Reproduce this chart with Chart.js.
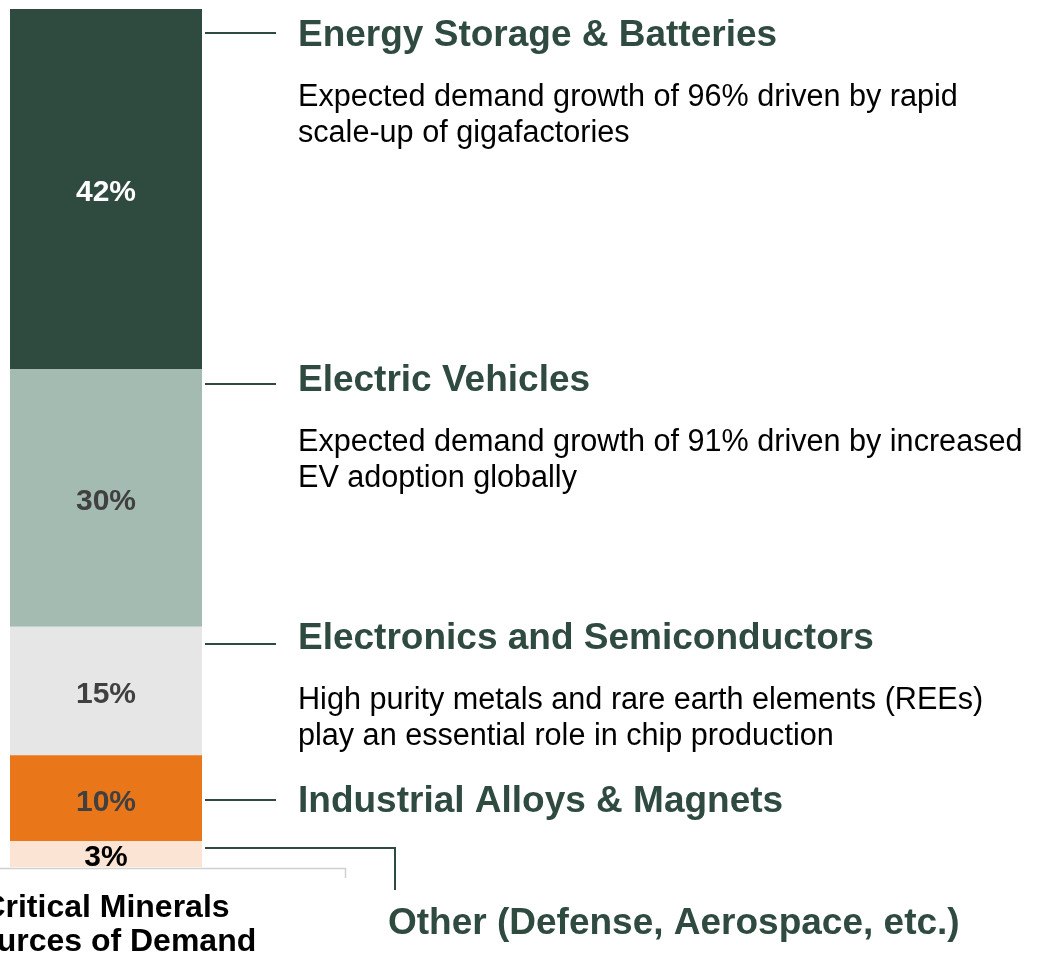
<!DOCTYPE html>
<html>
<head>
<meta charset="utf-8">
<script src="https://cdn.jsdelivr.net/npm/chart.js@4/dist/chart.umd.min.js"></script>
<style>
  html, body { margin: 0; padding: 0; background: #fff; }
  #wrap { position: relative; width: 1056px; height: 955px; }
</style>
</head>
<body>
<div id="wrap"><canvas id="chart"></canvas></div>
<script>
// data, listed top of the bar to bottom
const categories = [
    'Energy Storage & Batteries',
    'Electric Vehicles',
    'Electronics and Semiconductors',
    'Industrial Alloys & Magnets',
    'Other (Defense, Aerospace, etc.)'
];
const shares = [42, 30, 15, 10, 3];
const descriptions = [
    ['Expected demand growth of 96% driven by rapid', 'scale-up of gigafactories'],
    ['Expected demand growth of 91% driven by increased', 'EV adoption globally'],
    ['High purity metals and rare earth elements (REEs)', 'play an essential role in chip production'],
    [],
    []
];
const titleLines = ['Critical Minerals', 'Sources of Demand'];

// styles
const fills = ['#2F4A3E', '#A3BBB0', '#E6E6E6', '#E9771A', '#FCE4D5'];
const labelColors = ['#FFFFFF', '#404040', '#404040', '#404040', '#000000'];
const green = '#2F4A3E';
const FONT = '"Liberation Sans", Arial, sans-serif';

// where the leader line sits inside each segment (px from segment top, or 'mid')
const leaderOffset = [24, 15, 17, 'mid', 7];
// heading baseline below leader line
const headingDrop = [13, 7, 5, 12, null];

const n = categories.length;
const datasets = categories.map((c, i) => ({
    label: c,
    data: [shares[i]],
    backgroundColor: fills[i],
    borderWidth: 0
})).reverse();

const calloutPlugin = {
    id: 'callouts',
    afterDatasetsDraw(chart) {
        const ctx = chart.ctx;
        ctx.save();
        for (let i = 0; i < n; i++) {
            const el = chart.getDatasetMeta(n - 1 - i).data[0];
            const top = Math.min(el.y, el.base);
            const bottom = Math.max(el.y, el.base);
            const right = el.x + el.width / 2;

            // value label
            ctx.font = 'bold 30px ' + FONT;
            ctx.fillStyle = labelColors[i];
            ctx.textAlign = 'center';
            ctx.textBaseline = 'middle';
            ctx.fillText(shares[i] + '%', el.x, (top + bottom) / 2 + 4);

            // leader line
            const off = leaderOffset[i];
            const ly = Math.round(off === 'mid' ? (top + bottom) / 2 + 2 : top + off);
            ctx.strokeStyle = green;
            ctx.lineWidth = 2;
            ctx.beginPath();
            ctx.moveTo(right + 3, ly);
            if (i === n - 1) {
                ctx.lineTo(right + 193, ly);
                ctx.lineTo(right + 193, ly + 42);
            } else {
                ctx.lineTo(right + 74, ly);
            }
            ctx.stroke();

            // heading + description
            ctx.textAlign = 'left';
            ctx.textBaseline = 'alphabetic';
            ctx.fillStyle = green;
            ctx.font = 'bold 37px ' + FONT;
            let hx = right + 96;
            let hy = ly + (headingDrop[i] || 0);
            if (i === n - 1) {
                hx = right + 186;
                hy = ly + 86;
            }
            ctx.fillText(categories[i], hx, hy);
            ctx.fillStyle = '#000';
            ctx.font = '30.6px ' + FONT;
            descriptions[i].forEach((line, k) => {
                ctx.fillText(line, hx, hy + 60 + k * 36);
            });
        }

        // title box under the bar
        const area = chart.chartArea;
        ctx.strokeStyle = '#D0D0D0';
        ctx.lineWidth = 1.5;
        ctx.beginPath();
        ctx.moveTo(0, area.bottom + 1.5);
        ctx.lineTo(345.5, area.bottom + 1.5);
        ctx.lineTo(345.5, area.bottom + 11);
        ctx.stroke();

        ctx.fillStyle = '#000';
        ctx.font = 'bold 32px ' + FONT;
        ctx.textAlign = 'center';
        titleLines.forEach((t, k) => {
            ctx.fillText(t, 106, area.bottom + 50 + k * 34);
        });
        ctx.restore();
    }
};

new Chart(document.getElementById('chart'), {
    type: 'bar',
    data: { labels: ['Demand'], datasets: datasets },
    options: {
        responsive: true,
        maintainAspectRatio: false,
        animation: false,
        layout: { padding: { left: 10, right: 854, top: 9, bottom: 88 } },
        datasets: { bar: { barPercentage: 1, categoryPercentage: 1 } },
        scales: {
            x: { stacked: true, display: false },
            y: { stacked: true, display: false, min: 0, max: 100 }
        },
        plugins: { legend: { display: false }, tooltip: { enabled: false } }
    },
    plugins: [calloutPlugin]
});
</script>
</body>
</html>
